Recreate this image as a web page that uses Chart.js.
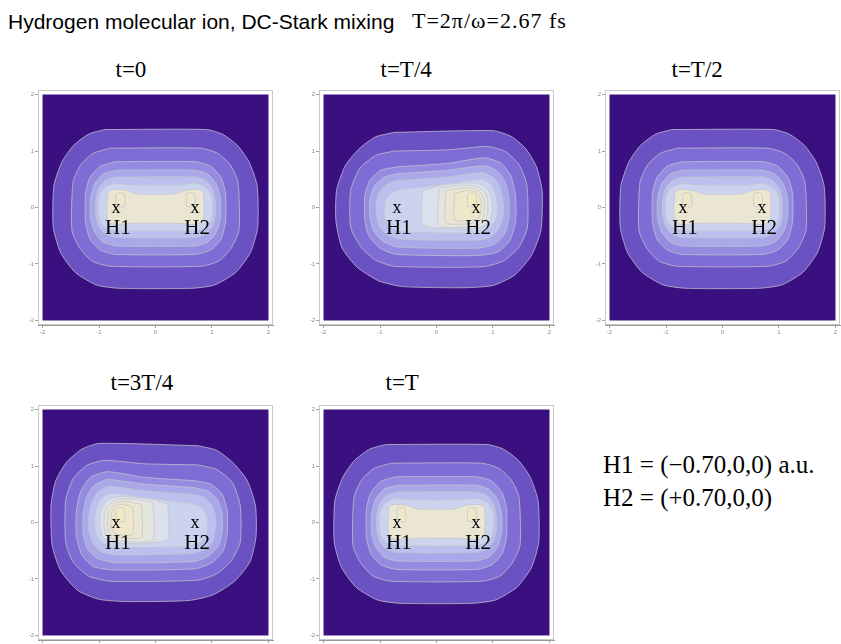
<!DOCTYPE html>
<html>
<head>
<meta charset="utf-8">
<script src="https://cdn.jsdelivr.net/npm/chart.js@4.4.0/dist/chart.umd.min.js"></script>
<style>
body{ margin:0; background:#fff; width:841px; height:644px; position:relative; overflow:hidden; }
.box{ position:absolute; }
.lbl{ position:absolute; white-space:nowrap; color:#000; line-height:1; font-family:"Liberation Serif","Times New Roman",serif; }
</style>
</head>
<body>

<div class="lbl" style="left:8px;top:11px;font-family:'Liberation Sans',Arial,sans-serif;font-size:21px;">Hydrogen molecular ion, DC-Stark mixing</div>
<div class="lbl" style="left:412px;top:10px;font-size:22px;letter-spacing:1px;">T=2π/ω=2.67 fs</div>

<div class="lbl" id="ttl0" style="top:58px;font-size:23px;">t=0</div>
<div class="lbl" id="ttl1" style="top:58px;font-size:23px;">t=T/4</div>
<div class="lbl" id="ttl2" style="top:58px;font-size:23px;">t=T/2</div>
<div class="lbl" id="ttl3" style="top:371px;font-size:23px;">t=3T/4</div>
<div class="lbl" id="ttl4" style="top:371px;font-size:23px;">t=T</div>

<div class="lbl" style="left:603px;top:452px;font-size:25px;">H1 = (−0.70,0,0) a.u.</div>
<div class="lbl" style="left:603px;top:485px;font-size:25px;">H2 = (+0.70,0,0)</div>

<div class="box" id="wrap0"><canvas id="graph0"></canvas></div>
<div class="box" id="wrap1"><canvas id="graph1"></canvas></div>
<div class="box" id="wrap2"><canvas id="graph2"></canvas></div>
<div class="box" id="wrap3"><canvas id="graph3"></canvas></div>
<div class="box" id="wrap4"><canvas id="graph4"></canvas></div>

<script>
// パネルのタイトル
var panel_titles  = ["t=0", "t=T/4", "t=T/2", "t=3T/4", "t=T"];
// 原子核の位置 (a.u.)
var nucleus_x     = [-0.70, 0.70];
var nucleus_y     = [0, 0];
var nucleus_names = ["H1", "H2"];
// 軸の目盛り
var tick_values   = [-2, -1, 0, 1, 2];
var tick_labels   = ["-2", "-1", "0", "1", "2"];

// 対称な分布 (t=0, T/2, T) の等高線 外側→内側
var sym_ring1 = [[-0.90,1.38],[0.90,1.38],[1.18,1.30],[1.45,1.10],[1.66,0.80],[1.80,0.38],[1.81,-0.35],[1.68,-0.80],[1.42,-1.15],[1.05,-1.37],[0.65,-1.43],[-0.65,-1.43],[-1.05,-1.37],[-1.42,-1.15],[-1.68,-0.80],[-1.81,-0.35],[-1.80,0.38],[-1.66,0.80],[-1.45,1.10],[-1.18,1.30],[-0.90,1.38]];
var sym_ring2 = [[-0.80,1.05],[0.80,1.05],[1.10,0.96],[1.32,0.76],[1.46,0.45],[1.48,-0.40],[1.34,-0.72],[1.12,-0.95],[0.80,-1.04],[-0.80,-1.04],[-1.12,-0.95],[-1.34,-0.72],[-1.48,-0.40],[-1.46,0.45],[-1.32,0.76],[-1.10,0.96],[-0.80,1.05]];
var sym_ring3 = [[-0.72,0.81],[0.72,0.81],[0.98,0.73],[1.16,0.53],[1.24,0.25],[1.24,-0.25],[1.16,-0.56],[0.98,-0.75],[0.72,-0.83],[-0.72,-0.83],[-0.98,-0.75],[-1.16,-0.56],[-1.24,-0.25],[-1.24,0.25],[-1.16,0.53],[-0.98,0.73],[-0.72,0.81]];
var sym_ring4 = [[-0.70,0.66],[0.70,0.66],[0.93,0.59],[1.08,0.41],[1.15,0.15],[1.15,-0.18],[1.08,-0.43],[0.93,-0.61],[0.70,-0.68],[-0.70,-0.68],[-0.93,-0.61],[-1.08,-0.43],[-1.15,-0.18],[-1.15,0.15],[-1.08,0.41],[-0.93,0.59],[-0.70,0.66]];
var sym_ring5 = [[-0.70,0.54],[0.70,0.54],[0.89,0.48],[1.01,0.33],[1.06,0.10],[1.06,-0.12],[1.01,-0.33],[0.89,-0.47],[0.70,-0.53],[-0.70,-0.53],[-0.89,-0.47],[-1.01,-0.33],[-1.06,-0.12],[-1.06,0.10],[-1.01,0.33],[-0.89,0.48],[-0.70,0.54]];
var sym_ring6 = [[-0.72,0.43],[-0.45,0.40],[0.45,0.40],[0.72,0.43],[0.90,0.35],[1.00,0.20],[1.01,-0.05],[0.98,-0.25],[0.88,-0.36],[0.70,-0.41],[-0.70,-0.41],[-0.88,-0.36],[-0.98,-0.25],[-1.01,-0.05],[-1.00,0.20],[-0.90,0.35],[-0.72,0.43]];
var sym_ring7 = [[-0.84,0.28],[-0.75,0.32],[-0.50,0.30],[-0.35,0.24],[0.35,0.24],[0.50,0.30],[0.75,0.32],[0.84,0.28],[0.86,0.00],[0.84,-0.25],[0.70,-0.30],[0.40,-0.28],[-0.40,-0.28],[-0.70,-0.30],[-0.84,-0.25],[-0.86,0.00],[-0.84,0.28]];
var sym_bump1 = [[-0.70,0.02],[-0.70,0.22],[-0.67,0.26],[-0.58,0.26],[-0.55,0.22],[-0.55,0.02],[-0.70,0.02]];
var sym_bump2 = [[0.55,0.02],[0.55,0.22],[0.58,0.26],[0.67,0.26],[0.70,0.22],[0.70,0.02],[0.55,0.02]];
var sym_levels = [1, 2, 3, 4, 5, 6, 9, 10, 10];

// t=T/4 (H2側に偏る)
var q1_ring1 = [[-0.75,1.33],[1.00,1.36],[1.32,1.26],[1.58,1.04],[1.77,0.72],[1.87,0.30],[1.85,-0.40],[1.68,-0.85],[1.38,-1.20],[1.00,-1.38],[0.50,-1.42],[-0.60,-1.40],[-1.02,-1.30],[-1.40,-1.06],[-1.67,-0.72],[-1.78,-0.25],[-1.77,0.30],[-1.62,0.73],[-1.37,1.04],[-1.08,1.25],[-0.75,1.33]];
var q1_ring2 = [[-0.75,1.00],[0.20,1.02],[0.90,1.08],[1.22,0.99],[1.46,0.76],[1.60,0.40],[1.61,-0.35],[1.46,-0.70],[1.18,-0.95],[0.80,-1.05],[-0.75,-1.04],[-1.08,-0.93],[-1.33,-0.71],[-1.52,-0.35],[-1.52,0.30],[-1.36,0.69],[-1.08,0.92],[-0.75,1.00]];
var q1_ring3 = [[-0.70,0.72],[0.20,0.78],[0.85,0.88],[1.15,0.78],[1.32,0.55],[1.40,0.20],[1.40,-0.25],[1.30,-0.58],[1.10,-0.78],[0.75,-0.85],[-0.70,-0.83],[-1.00,-0.72],[-1.20,-0.50],[-1.27,-0.20],[-1.27,0.20],[-1.18,0.48],[-0.98,0.66],[-0.70,0.72]];
var q1_ring4 = [[-0.68,0.60],[0.20,0.66],[0.85,0.74],[1.08,0.64],[1.22,0.44],[1.28,0.15],[1.28,-0.20],[1.20,-0.48],[1.02,-0.65],[0.72,-0.72],[-0.68,-0.70],[-0.95,-0.60],[-1.12,-0.40],[-1.18,-0.15],[-1.18,0.15],[-1.10,0.38],[-0.92,0.54],[-0.68,0.60]];
var q1_ring5 = [[-0.65,0.48],[0.20,0.54],[0.82,0.62],[1.02,0.52],[1.13,0.34],[1.18,0.10],[1.18,-0.15],[1.10,-0.38],[0.95,-0.53],[0.70,-0.58],[-0.65,-0.56],[-0.88,-0.48],[-1.02,-0.32],[-1.06,-0.10],[-1.06,0.12],[-0.98,0.32],[-0.85,0.43],[-0.65,0.48]];
var q1_ring6 = [[-0.60,0.32],[0.20,0.42],[0.80,0.50],[0.97,0.40],[1.05,0.22],[1.08,0.00],[1.05,-0.20],[0.95,-0.36],[0.70,-0.45],[-0.60,-0.43],[-0.80,-0.36],[-0.91,-0.20],[-0.91,0.10],[-0.80,0.26],[-0.60,0.32]];
var q1_ring7 = [[-0.25,0.30],[0.10,0.40],[0.60,0.44],[0.85,0.38],[0.97,0.20],[0.99,-0.05],[0.93,-0.26],[0.72,-0.37],[0.10,-0.37],[-0.25,-0.30],[-0.25,0.30]];
var q1_ring8 = [[0.05,0.34],[0.45,0.40],[0.75,0.36],[0.89,0.20],[0.91,-0.05],[0.86,-0.24],[0.66,-0.33],[0.05,-0.32],[0.05,0.34]];
var q1_ring9 = [[0.17,0.30],[0.48,0.35],[0.72,0.32],[0.83,0.18],[0.85,-0.05],[0.81,-0.21],[0.62,-0.28],[0.17,-0.27],[0.17,0.30]];
var q1_ring10 = [[0.32,0.25],[0.55,0.30],[0.70,0.28],[0.78,0.15],[0.79,-0.05],[0.75,-0.18],[0.60,-0.23],[0.32,-0.22],[0.32,0.25]];
var q1_bump = [[0.55,0.02],[0.55,0.22],[0.58,0.26],[0.67,0.26],[0.70,0.22],[0.70,0.02],[0.55,0.02]];
var q1_levels = [1, 2, 3, 4, 5, 6, 7, 8, 9, 10, 11];

// t=3T/4 (H1側に偏る)
var q3_ring1 = [[0.75,1.36],[-1.00,1.40],[-1.32,1.29],[-1.58,1.06],[-1.77,0.73],[-1.85,0.30],[-1.83,-0.40],[-1.68,-0.85],[-1.38,-1.20],[-1.00,-1.36],[-0.50,-1.40],[0.60,-1.38],[1.02,-1.28],[1.40,-1.04],[1.67,-0.70],[1.78,-0.25],[1.77,0.30],[1.62,0.75],[1.37,1.06],[1.08,1.28],[0.75,1.36]];
var q3_ring2 = [[0.75,1.02],[-0.20,1.04],[-0.90,1.10],[-1.22,1.01],[-1.46,0.77],[-1.59,0.40],[-1.59,-0.35],[-1.46,-0.70],[-1.18,-0.95],[-0.80,-1.04],[0.75,-1.02],[1.08,-0.91],[1.33,-0.69],[1.50,-0.35],[1.50,0.30],[1.36,0.71],[1.08,0.94],[0.75,1.02]];
var q3_ring3 = [[0.70,0.74],[-0.20,0.80],[-0.85,0.90],[-1.15,0.80],[-1.32,0.56],[-1.40,0.20],[-1.40,-0.25],[-1.30,-0.58],[-1.10,-0.78],[-0.75,-0.84],[0.70,-0.82],[1.00,-0.71],[1.20,-0.50],[1.27,-0.20],[1.27,0.20],[1.18,0.50],[0.98,0.68],[0.70,0.74]];
var q3_ring4 = [[0.68,0.62],[-0.20,0.68],[-0.85,0.76],[-1.08,0.66],[-1.22,0.45],[-1.28,0.15],[-1.28,-0.20],[-1.20,-0.48],[-1.02,-0.64],[-0.72,-0.71],[0.68,-0.69],[0.95,-0.59],[1.12,-0.40],[1.18,-0.15],[1.18,0.15],[1.10,0.40],[0.92,0.56],[0.68,0.62]];
var q3_ring5 = [[0.65,0.50],[-0.20,0.56],[-0.82,0.64],[-1.02,0.54],[-1.13,0.35],[-1.18,0.10],[-1.18,-0.15],[-1.10,-0.38],[-0.95,-0.52],[-0.70,-0.57],[0.65,-0.55],[0.88,-0.47],[1.02,-0.32],[1.06,-0.10],[1.06,0.12],[0.98,0.33],[0.85,0.45],[0.65,0.50]];
var q3_ring6 = [[0.60,0.34],[-0.20,0.44],[-0.80,0.52],[-0.97,0.42],[-1.05,0.23],[-1.08,0.00],[-1.05,-0.20],[-0.95,-0.35],[-0.70,-0.44],[0.60,-0.42],[0.80,-0.35],[0.91,-0.20],[0.91,0.10],[0.80,0.28],[0.60,0.34]];
var q3_ring7 = [[0.22,0.32],[-0.10,0.42],[-0.60,0.46],[-0.85,0.40],[-0.97,0.21],[-0.99,-0.05],[-0.93,-0.26],[-0.72,-0.36],[-0.10,-0.36],[0.22,-0.30],[0.22,0.32]];
var q3_ring8 = [[-0.05,0.36],[-0.45,0.42],[-0.75,0.38],[-0.89,0.21],[-0.91,-0.05],[-0.86,-0.23],[-0.66,-0.32],[-0.05,-0.31],[-0.05,0.36]];
var q3_ring9 = [[-0.25,0.32],[-0.50,0.37],[-0.72,0.34],[-0.83,0.19],[-0.85,-0.05],[-0.81,-0.20],[-0.62,-0.27],[-0.25,-0.26],[-0.25,0.32]];
var q3_ring10 = [[-0.40,0.27],[-0.57,0.32],[-0.70,0.30],[-0.78,0.16],[-0.79,-0.05],[-0.75,-0.17],[-0.60,-0.22],[-0.40,-0.21],[-0.40,0.27]];
var q3_bump = [[-0.70,0.02],[-0.70,0.22],[-0.67,0.26],[-0.58,0.26],[-0.55,0.22],[-0.55,0.02],[-0.70,0.02]];
var q3_levels = [1, 2, 3, 4, 5, 6, 7, 8, 9, 10, 11];

// 等高線の色 (0:背景)
var level_colors = ["#3a0f7f", "#6a52c2", "#7e6dd4", "#958ce1", "#a9a8e9", "#bcc0ee", "#ccd3ef", "#dbe0ea", "#e4e5dd", "#eae6d2", "#eee7ca", "#f2e8c4"];
var line_color = "rgba(196,196,206,0.75)";

var sym_rings = [sym_ring1, sym_ring2, sym_ring3, sym_ring4, sym_ring5, sym_ring6, sym_ring7, sym_bump1, sym_bump2];
var q1_rings  = [q1_ring1, q1_ring2, q1_ring3, q1_ring4, q1_ring5, q1_ring6, q1_ring7, q1_ring8, q1_ring9, q1_ring10, q1_bump];
var q3_rings  = [q3_ring1, q3_ring2, q3_ring3, q3_ring4, q3_ring5, q3_ring6, q3_ring7, q3_ring8, q3_ring9, q3_ring10, q3_bump];

// パネルの配置 (中心の画素位置)
var panel_rings  = [sym_rings, q1_rings, sym_rings, q3_rings, sym_rings];
var panel_levels = [sym_levels, q1_levels, sym_levels, q3_levels, sym_levels];
var panel_cx     = [155, 436, 722, 155, 436];
var panel_cy     = [207, 207, 207, 522, 522];
var title_cx     = [131, 406, 697, 142, 402];

var AXIS_LIM  = 2.08;
var PLOT_LIM  = 2;
var HALF      = 117.5;
var Y_AXIS_W  = 15;
var X_AXIS_H  = 12;
var CHARTS    = [];

//背景の塗りつぶしと原子核のラベル
var panel_deco = {
    id: "panel_deco",
    beforeDatasetsDraw: function(chart){
        let ctx = chart.ctx;
        let xs  = chart.scales.x;
        let ys  = chart.scales.y;
        let l = xs.getPixelForValue(-PLOT_LIM), r = xs.getPixelForValue(PLOT_LIM);
        let t = ys.getPixelForValue(PLOT_LIM),  b = ys.getPixelForValue(-PLOT_LIM);
        ctx.save();
        ctx.fillStyle = level_colors[0];
        ctx.fillRect(l, t, r - l, b - t);
        ctx.strokeStyle = "#c8c8c8";
        ctx.lineWidth = 1;
        let a = chart.chartArea;
        ctx.strokeRect(a.left + 0.5, a.top + 0.5, a.right - a.left - 1, a.bottom - a.top - 1);
        ctx.restore();
    },
    afterDatasetsDraw: function(chart){
        let ctx = chart.ctx;
        let xs  = chart.scales.x;
        let ys  = chart.scales.y;
        ctx.save();
        ctx.fillStyle = "#000";
        ctx.textAlign = "center";
        ctx.textBaseline = "alphabetic";
        for (let i=0;i<nucleus_x.length;i++){
            let px = xs.getPixelForValue(nucleus_x[i]);
            let py = ys.getPixelForValue(nucleus_y[i]);
            ctx.font = "18px 'Liberation Serif', serif";
            ctx.fillText("x", px, py + 5);
            ctx.font = "21px 'Liberation Serif', serif";
            ctx.fillText(nucleus_names[i], px + 2, py + 26);
        }
        ctx.restore();
    }
};

function make_datasets(rings, levels){
    let ds = [];
    for (let i=0;i<rings.length;i++){
        ds.push({
            data: rings[i].map(function(p){ return {x: p[0], y: p[1]}; }),
            showLine: true,
            fill: "shape",
            backgroundColor: level_colors[levels[i]],
            borderColor: line_color,
            borderWidth: 1,
            pointRadius: 0,
            tension: 0.2,
            order: rings.length - i
        });
    }
    return ds;
}

function axis_opts(is_y){
    return {
        type: "linear",
        min: -AXIS_LIM,
        max: AXIS_LIM,
        afterBuildTicks: function(s){
            s.ticks = tick_values.map(function(v){ return {value: v}; });
        },
        afterFit: function(s){
            if (is_y){
                s.width = Y_AXIS_W;
                s.paddingTop = 0; s.paddingBottom = 0;
            } else {
                s.height = X_AXIS_H;
                s.paddingLeft = 0; s.paddingRight = 0;
            }
        },
        ticks: {
            autoSkip: false,
            maxRotation: 0,
            padding: 1,
            color: "#8a8a8a",
            font: {size: 6, family: "'Liberation Sans', sans-serif"},
            callback: function(v){
                let k = tick_values.indexOf(v);
                return k < 0 ? "" : tick_labels[k];
            }
        },
        grid: {display: true, drawOnChartArea: false, drawTicks: true, tickLength: 3, color: "#9aa89a"},
        border: {display: true, color: "#9a9a9a", width: 1}
    };
}

window.addEventListener("load", function(){

    for (let i=0;i<5;i++){
        let wrap = document.getElementById("wrap" + i);
        wrap.style.left   = (panel_cx[i] - HALF - Y_AXIS_W) + "px";
        wrap.style.top    = (panel_cy[i] - HALF) + "px";
        wrap.style.width  = (HALF * 2 + Y_AXIS_W + 1) + "px";
        wrap.style.height = (HALF * 2 + X_AXIS_H) + "px";

        let ttl = document.getElementById("ttl" + i);
        ttl.textContent = panel_titles[i];
        ttl.style.left = (title_cx[i] - ttl.offsetWidth / 2) + "px";

        CHARTS.push(new Chart(document.getElementById("graph" + i), {
            type: "scatter",
            data: { datasets: make_datasets(panel_rings[i], panel_levels[i]) },
            options: {
                responsive: true,
                maintainAspectRatio: false,
                animation: false,
                layout: { padding: {left: 0, right: 1, top: 0, bottom: 0} },
                plugins: { legend: {display: false}, tooltip: {enabled: false} },
                scales: { x: axis_opts(false), y: axis_opts(true) }
            },
            plugins: [panel_deco]
        }));
    }
});
</script>
</body>
</html>
